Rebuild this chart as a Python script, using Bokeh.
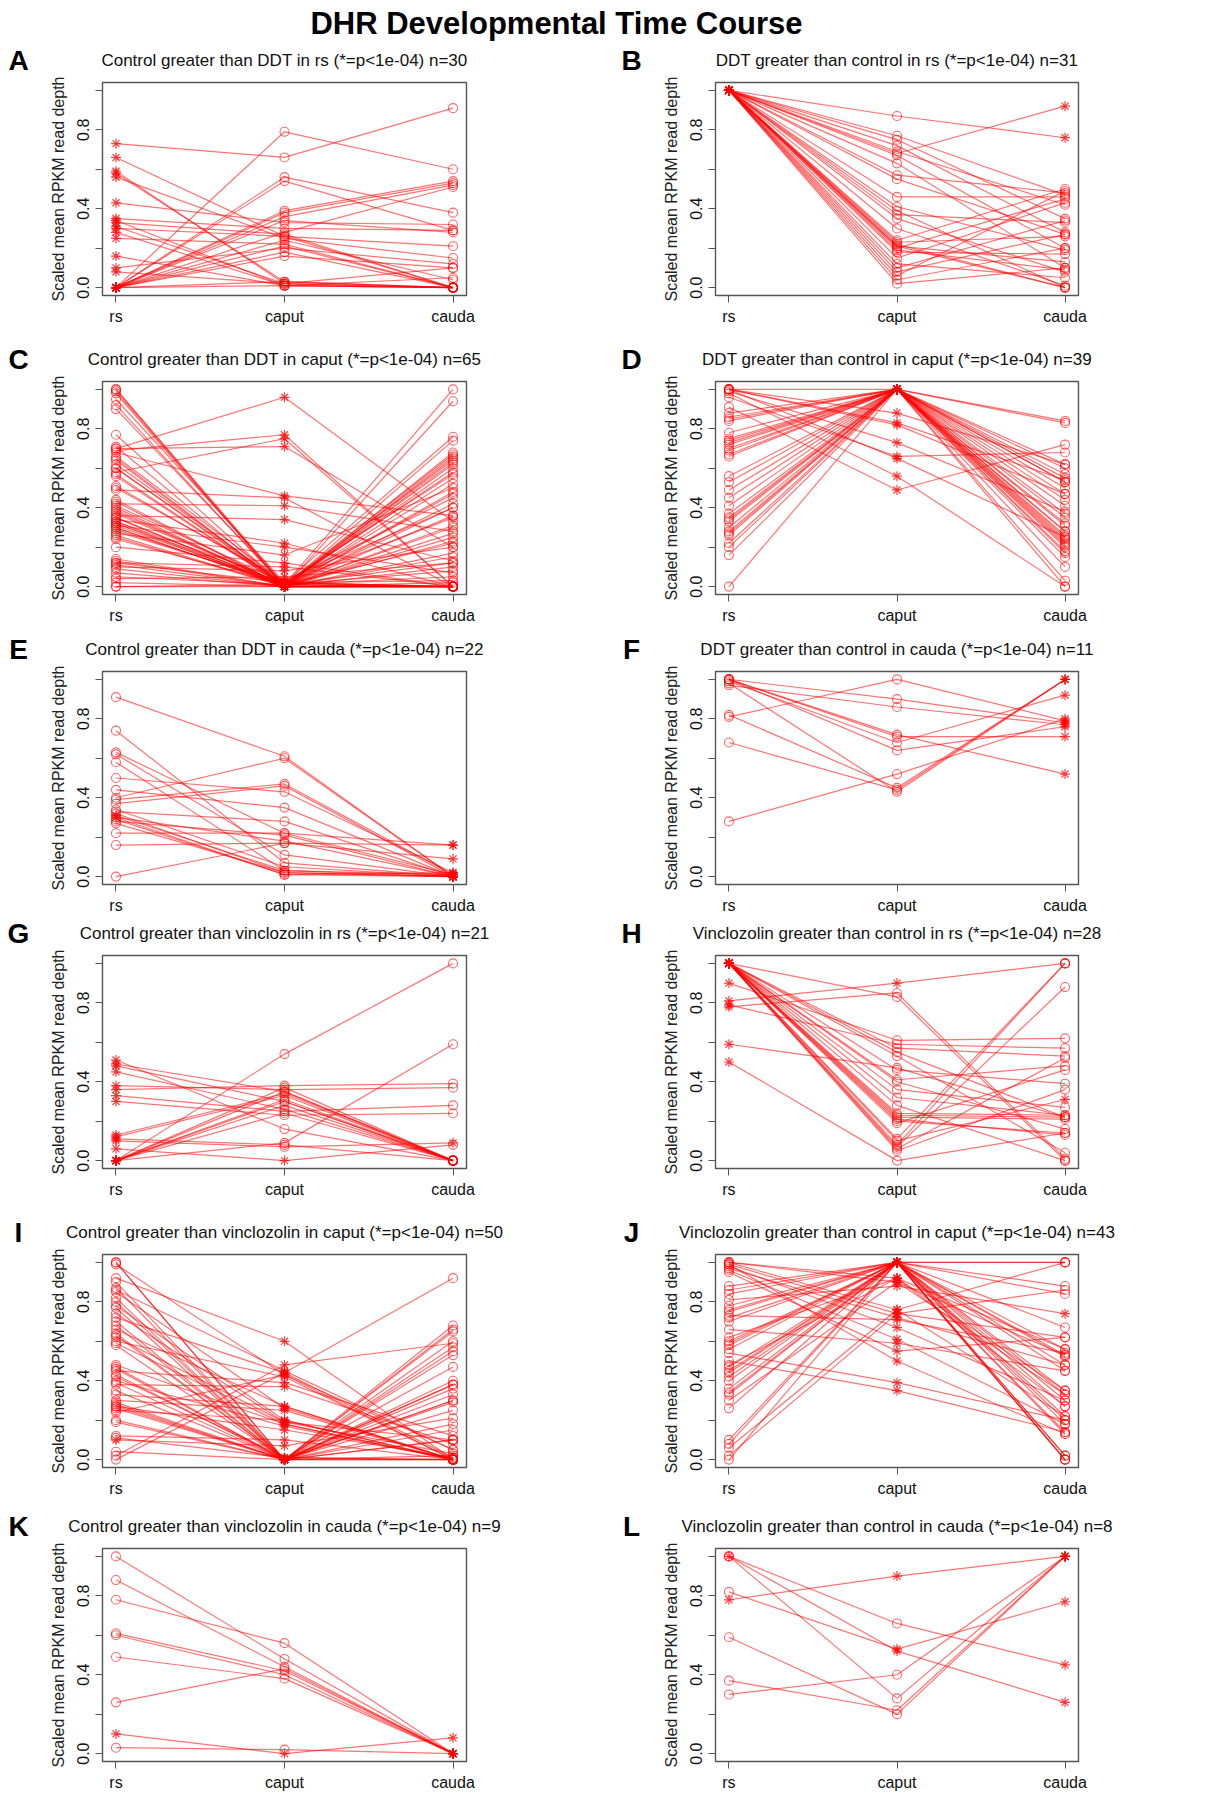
import math
from bokeh.plotting import figure
from bokeh.models import FixedTicker
from bokeh.layouts import column, row
from bokeh.core.properties import value
from bokeh.embed import file_html
from bokeh.resources import INLINE

FONT = "Liberation Sans"

main_title = "DHR Developmental Time Course"
stages = ["rs", "caput", "cauda"]
y_major = [0.0, 0.4, 0.8]
y_major_labels = ["0.0", "0.4", "0.8"]
y_minor = [0.2, 0.6, 1.0]
y_label = "Scaled mean RPKM read depth"

letters = ["A", "B", "C", "D", "E", "F", "G", "H", "I", "J", "K", "L"]
title_bases = [
    "Control greater than DDT in rs (*=p<1e-04)",
    "DDT greater than control in rs (*=p<1e-04)",
    "Control greater than DDT in caput (*=p<1e-04)",
    "DDT greater than control in caput (*=p<1e-04)",
    "Control greater than DDT in cauda (*=p<1e-04)",
    "DDT greater than control in cauda (*=p<1e-04)",
    "Control greater than vinclozolin in rs (*=p<1e-04)",
    "Vinclozolin greater than control in rs (*=p<1e-04)",
    "Control greater than vinclozolin in caput (*=p<1e-04)",
    "Vinclozolin greater than control in caput (*=p<1e-04)",
    "Control greater than vinclozolin in cauda (*=p<1e-04)",
    "Vinclozolin greater than control in cauda (*=p<1e-04)",
]
# stage tested in each panel (asterisk markers there)
tested_stage = ["rs", "rs", "caput", "caput", "cauda", "cauda",
                "rs", "rs", "caput", "caput", "cauda", "cauda"]

# each entry: (rs, caput, cauda) scaled mean RPKM
panel_A = [
    (0.73, 0.66, 0.91), (0.00, 0.79, 0.60), (0.66, 0.26, 0.00), (0.59, 0.02, 0.00),
    (0.58, 0.03, 0.00), (0.56, 0.25, 0.15), (0.43, 0.33, 0.32), (0.35, 0.30, 0.29),
    (0.34, 0.01, 0.00), (0.33, 0.27, 0.00), (0.31, 0.02, 0.00), (0.30, 0.26, 0.21),
    (0.28, 0.01, 0.05), (0.25, 0.22, 0.00), (0.16, 0.01, 0.00), (0.10, 0.20, 0.12),
    (0.08, 0.02, 0.10), (0.00, 0.56, 0.38), (0.00, 0.54, 0.29), (0.00, 0.39, 0.54),
    (0.00, 0.38, 0.53), (0.00, 0.36, 0.52), (0.00, 0.34, 0.28), (0.00, 0.28, 0.51),
    (0.00, 0.24, 0.04), (0.00, 0.21, 0.00), (0.00, 0.18, 0.00), (0.00, 0.16, 0.10),
    (0.00, 0.01, 0.00), (0.00, 0.03, 0.00),
]
panel_B = [
    (1.0, 0.87, 0.76), (1.0, 0.68, 0.92), (1.0, 0.77, 0.47), (1.0, 0.75, 0.35),
    (1.0, 0.72, 0.28), (1.0, 0.69, 0.42), (1.0, 0.67, 0.20), (1.0, 0.63, 0.10),
    (1.0, 0.57, 0.48), (1.0, 0.55, 0.27), (1.0, 0.46, 0.46), (1.0, 0.41, 0.19),
    (1.0, 0.39, 0.00), (1.0, 0.37, 0.33), (1.0, 0.35, 0.08), (1.0, 0.30, 0.01),
    (1.0, 0.24, 0.50), (1.0, 0.23, 0.26), (1.0, 0.22, 0.00), (1.0, 0.21, 0.13),
    (1.0, 0.20, 0.45), (1.0, 0.19, 0.09), (1.0, 0.18, 0.17), (1.0, 0.15, 0.43),
    (1.0, 0.12, 0.05), (1.0, 0.10, 0.34), (1.0, 0.08, 0.27), (1.0, 0.06, 0.49),
    (1.0, 0.04, 0.20), (1.0, 0.02, 0.10), (1.0, 0.21, 0.00),
]
panel_C = [
    (1.00, 0.00, 0.00), (1.00, 0.01, 0.12), (0.99, 0.00, 0.30), (0.95, 0.02, 0.00),
    (0.92, 0.00, 0.65), (0.90, 0.01, 0.22), (0.77, 0.00, 0.40), (0.70, 0.96, 0.33),
    (0.70, 0.71, 0.20), (0.69, 0.77, 0.00), (0.68, 0.46, 0.36), (0.65, 0.00, 0.55),
    (0.62, 0.01, 0.00), (0.60, 0.00, 0.68), (0.58, 0.75, 0.00), (0.57, 0.00, 0.25),
    (0.51, 0.02, 0.00), (0.49, 0.45, 0.00), (0.43, 0.00, 0.47), (0.42, 0.41, 0.28),
    (0.40, 0.00, 0.63), (0.38, 0.01, 0.00), (0.36, 0.34, 0.13), (0.35, 0.00, 0.42),
    (0.34, 0.22, 0.00), (0.33, 0.00, 0.60), (0.32, 0.02, 0.03), (0.31, 0.20, 0.07),
    (0.30, 0.00, 0.66), (0.29, 0.01, 0.00), (0.27, 0.16, 0.50), (0.25, 0.00, 0.17),
    (0.20, 0.12, 0.00), (0.14, 0.00, 0.52), (0.12, 0.10, 0.00), (0.11, 0.00, 0.31),
    (0.10, 0.08, 0.20), (0.07, 0.00, 0.00), (0.04, 0.05, 0.12), (0.02, 0.00, 0.74),
    (0.00, 0.01, 1.00), (0.00, 0.00, 0.94), (0.71, 0.00, 0.00), (0.66, 0.02, 0.76),
    (0.64, 0.00, 0.36), (0.60, 0.01, 0.05), (0.56, 0.00, 0.62), (0.50, 0.03, 0.45),
    (0.44, 0.00, 0.00), (0.41, 0.02, 0.57), (0.39, 0.00, 0.23), (0.37, 0.01, 0.64),
    (0.35, 0.00, 0.00), (0.33, 0.03, 0.40), (0.32, 0.00, 0.27), (0.31, 0.01, 0.67),
    (0.30, 0.00, 0.10), (0.28, 0.02, 0.35), (0.26, 0.00, 0.00), (0.24, 0.01, 0.58),
    (0.13, 0.00, 0.15), (0.12, 0.02, 0.00), (0.09, 0.00, 0.48), (0.05, 0.01, 0.08),
    (0.98, 0.00, 0.02),
]
panel_D = [
    (1.00, 0.88, 0.62), (1.00, 0.83, 0.54), (1.00, 0.82, 0.47), (0.99, 0.73, 0.38),
    (0.96, 0.66, 0.68), (1.00, 0.65, 0.25), (0.98, 0.56, 0.00), (0.91, 0.49, 0.72),
    (0.88, 1.00, 0.84), (0.86, 1.00, 0.83), (0.85, 1.00, 0.60), (0.84, 1.00, 0.57),
    (0.78, 1.00, 0.53), (0.75, 1.00, 0.50), (0.74, 1.00, 0.44), (0.72, 1.00, 0.41),
    (0.70, 1.00, 0.35), (0.67, 1.00, 0.32), (0.66, 1.00, 0.28), (0.56, 1.00, 0.26),
    (0.53, 1.00, 0.25), (0.49, 1.00, 0.23), (0.45, 1.00, 0.22), (0.41, 1.00, 0.20),
    (0.37, 1.00, 0.17), (0.35, 1.00, 0.15), (0.33, 1.00, 0.10), (0.30, 1.00, 0.03),
    (0.27, 1.00, 0.00), (0.26, 1.00, 0.28), (0.22, 1.00, 0.53), (0.20, 1.00, 0.24),
    (0.16, 1.00, 0.37), (0.00, 1.00, 0.21), (1.00, 1.00, 0.55), (0.73, 1.00, 0.62),
    (0.69, 1.00, 0.31), (0.34, 1.00, 0.47), (0.28, 1.00, 0.18),
]
panel_E = [
    (0.91, 0.61, 0.00), (0.74, 0.07, 0.00), (0.63, 0.22, 0.01), (0.62, 0.11, 0.00),
    (0.58, 0.03, 0.00), (0.50, 0.43, 0.02), (0.44, 0.35, 0.00), (0.40, 0.60, 0.00),
    (0.39, 0.47, 0.01), (0.37, 0.46, 0.00), (0.33, 0.28, 0.00), (0.32, 0.02, 0.00),
    (0.31, 0.03, 0.01), (0.30, 0.18, 0.00), (0.29, 0.01, 0.02), (0.28, 0.21, 0.00),
    (0.27, 0.02, 0.00), (0.22, 0.22, 0.16), (0.16, 0.17, 0.16), (0.00, 0.17, 0.09),
    (0.34, 0.05, 0.00), (0.30, 0.01, 0.00),
]
panel_F = [
    (0.81, 1.00, 0.79), (1.00, 0.90, 0.78), (0.97, 0.86, 0.77), (1.00, 0.72, 0.52),
    (1.00, 0.71, 0.71), (0.99, 0.68, 0.92), (1.00, 0.64, 0.76), (0.28, 0.52, 0.80),
    (0.82, 0.45, 1.00), (0.68, 0.44, 1.00), (0.98, 0.43, 1.00),
]
panel_G = [
    (0.00, 0.54, 1.00), (0.00, 0.09, 0.59), (0.51, 0.16, 0.00), (0.49, 0.35, 0.00),
    (0.48, 0.30, 0.00), (0.45, 0.26, 0.00), (0.38, 0.36, 0.37), (0.36, 0.38, 0.39),
    (0.33, 0.25, 0.28), (0.30, 0.23, 0.24), (0.13, 0.34, 0.00), (0.12, 0.33, 0.00),
    (0.11, 0.08, 0.00), (0.10, 0.07, 0.09), (0.06, 0.00, 0.08), (0.00, 0.37, 0.00),
    (0.00, 0.35, 0.00), (0.00, 0.31, 0.00), (0.00, 0.28, 0.00), (0.00, 0.24, 0.00),
    (0.00, 0.30, 0.00),
]
panel_H = [
    (0.81, 0.90, 1.00), (0.78, 0.85, 0.01), (1.00, 0.83, 0.00), (0.59, 0.47, 0.22),
    (0.50, 0.00, 0.14), (0.90, 0.61, 0.62), (0.79, 0.59, 0.57), (1.00, 0.57, 0.53),
    (1.00, 0.55, 0.22), (1.00, 0.53, 0.04), (1.00, 0.46, 0.39), (1.00, 0.41, 0.48),
    (1.00, 0.40, 0.16), (1.00, 0.36, 0.27), (1.00, 0.32, 0.23), (1.00, 0.28, 0.00),
    (1.00, 0.24, 0.23), (1.00, 0.23, 0.22), (1.00, 0.22, 0.21), (1.00, 0.21, 0.13),
    (1.00, 0.19, 0.46), (1.00, 0.11, 1.00), (1.00, 0.08, 1.00), (1.00, 0.07, 0.88),
    (1.00, 0.06, 0.52), (1.00, 0.05, 0.36), (1.00, 0.10, 0.31), (1.00, 0.20, 0.14),
]
panel_I = [
    (1.00, 0.00, 0.00), (1.00, 0.00, 0.10), (0.99, 0.43, 0.00), (0.92, 0.60, 0.00),
    (0.87, 0.00, 0.30), (0.86, 0.45, 0.05), (0.82, 0.00, 0.55), (0.78, 0.20, 0.00),
    (0.77, 0.00, 0.66), (0.72, 0.44, 0.01), (0.70, 0.00, 0.18), (0.66, 0.27, 0.00),
    (0.64, 0.00, 0.38), (0.62, 0.19, 0.03), (0.60, 0.42, 0.00), (0.58, 0.00, 0.60),
    (0.48, 0.18, 0.00), (0.47, 0.00, 0.29), (0.45, 0.39, 0.12), (0.43, 0.00, 0.53),
    (0.40, 0.17, 0.00), (0.38, 0.37, 0.08), (0.35, 0.00, 0.40), (0.30, 0.25, 0.00),
    (0.28, 0.00, 0.68), (0.27, 0.15, 0.01), (0.26, 0.00, 0.25), (0.25, 0.20, 0.00),
    (0.20, 0.00, 0.47), (0.12, 0.10, 0.00), (0.10, 0.07, 0.21), (0.04, 0.00, 0.15),
    (0.00, 0.44, 0.92), (0.02, 0.48, 0.59), (0.90, 0.00, 0.36), (0.85, 0.26, 0.00),
    (0.80, 0.00, 0.02), (0.74, 0.19, 0.10), (0.68, 0.00, 0.00), (0.63, 0.00, 0.33),
    (0.59, 0.18, 0.00), (0.46, 0.00, 0.57), (0.42, 0.01, 0.00), (0.39, 0.00, 0.65),
    (0.33, 0.27, 0.00), (0.29, 0.00, 0.30), (0.27, 0.00, 0.10), (0.24, 0.43, 0.05),
    (0.19, 0.00, 0.38), (0.11, 0.01, 0.00),
]
panel_J = [
    (1.00, 0.92, 0.56), (1.00, 0.90, 0.33), (1.00, 0.76, 0.22), (0.99, 0.74, 0.86),
    (0.97, 0.72, 0.48), (0.98, 0.67, 0.30), (0.96, 0.61, 0.18), (0.95, 0.55, 0.62),
    (0.99, 0.50, 0.13), (0.88, 1.00, 1.00), (0.86, 1.00, 0.88), (0.84, 1.00, 0.84),
    (0.81, 0.88, 0.74), (0.78, 1.00, 0.67), (0.75, 1.00, 0.56), (0.73, 0.71, 0.54),
    (0.70, 1.00, 0.53), (0.66, 0.59, 0.45), (0.60, 1.00, 0.52), (0.59, 1.00, 0.48),
    (0.58, 1.00, 0.35), (0.54, 0.39, 0.20), (0.50, 0.35, 0.14), (0.47, 1.00, 0.33),
    (0.45, 1.00, 0.27), (0.44, 1.00, 0.02), (0.42, 1.00, 0.00), (0.40, 1.00, 0.22),
    (0.34, 1.00, 0.20), (0.33, 1.00, 0.30), (0.26, 1.00, 0.00), (0.08, 1.00, 0.45),
    (0.06, 0.76, 1.00), (0.00, 1.00, 0.13), (0.02, 0.74, 0.62), (0.76, 1.00, 0.02),
    (0.72, 1.00, 0.18), (0.62, 0.92, 0.27), (0.56, 1.00, 1.00), (0.48, 0.92, 0.35),
    (0.36, 1.00, 0.00), (0.30, 0.90, 0.53), (0.10, 1.00, 0.14),
]
panel_K = [
    (1.00, 0.48, 0.00), (0.88, 0.44, 0.00), (0.78, 0.56, 0.00), (0.61, 0.42, 0.00),
    (0.60, 0.40, 0.00), (0.49, 0.38, 0.00), (0.26, 0.43, 0.00), (0.10, 0.00, 0.08),
    (0.03, 0.02, 0.00),
]
panel_L = [
    (0.78, 0.90, 1.00), (1.00, 0.66, 0.45), (1.00, 0.52, 0.26), (0.82, 0.53, 0.77),
    (1.00, 0.28, 1.00), (0.37, 0.22, 1.00), (0.59, 0.20, 1.00), (0.30, 0.40, 1.00),
]
panels = [panel_A, panel_B, panel_C, panel_D, panel_E, panel_F,
          panel_G, panel_H, panel_I, panel_J, panel_K, panel_L]

# additional points drawn as asterisks: (gene row, stage)
extra_stars = {
    "B": [(0, "cauda"), (1, "cauda")],
    "E": [(12, "rs"), (13, "rs")],
    "G": [(14, "caput"), (13, "cauda")],
    "H": [(0, "caput"), (26, "cauda")],
    "I": [(30, "rs")],
    "J": [(12, "cauda")],
    "K": [(7, "rs"), (7, "caput")],
    "L": [(0, "rs"), (2, "rs"), (0, "caput"), (2, "caput"), (3, "caput")],
}

# ---- layout (page pixels) ----
PAGE_W = 1215
FRAME_H = 213
GAP_T = 6                                    # canvas space above each frame
ROW_START = [0, 335, 630, 915, 1205, 1500]
ROW_END = [335, 630, 915, 1205, 1500, 1798]
FRAME_TOP = [82, 381, 671, 954, 1253, 1547]
COL = [dict(x0=0, left=102, fw=364, right=146),
       dict(x0=612, left=103, fw=363, right=137)]
TITLE_ABOVE = 22
LETTER_DX = -84
MAIN_TITLE_XY = (556, 23)
X0, X1 = -0.08, 2.08
Y0, Y1 = -0.04, 1.04
RED = "#ff0000"
AXIS_GREY = "#555555"


def make_panel(idx):
    r, c = divmod(idx, 2)
    geo = COL[c]
    rows_data = panels[idx]
    letter = letters[idx]
    bottom = ROW_END[r] - (FRAME_TOP[r] + FRAME_H)
    p = figure(frame_width=geo["fw"], frame_height=FRAME_H,
               min_border_left=geo["left"], min_border_right=geo["right"],
               min_border_top=GAP_T, min_border_bottom=bottom,
               x_range=(X0, X1), y_range=(Y0, Y1),
               toolbar_location=None, output_backend="svg",
               background_fill_color="white", border_fill_color="white")
    p.grid.visible = False
    p.outline_line_color = AXIS_GREY
    p.outline_line_width = 1.4

    xs = [[stages.index(s) for s in stages] for _ in rows_data]
    ys = [list(g) for g in rows_data]
    p.multi_line(xs=xs, ys=ys, line_color=RED, line_alpha=0.55, line_width=1.2)

    t = tested_stage[idx]
    extras = set(extra_stars.get(letter, []))
    cx, cy, sx, sy = [], [], [], []
    for gi, g in enumerate(rows_data):
        for si, s in enumerate(stages):
            if s == t or (gi, s) in extras:
                sx.append(si); sy.append(g[si])
            else:
                cx.append(si); cy.append(g[si])
    p.scatter(cx, cy, marker="circle", size=9, fill_color=None,
              line_color=RED, line_alpha=0.6, line_width=1.1)
    p.scatter(sx, sy, marker="asterisk", size=10,
              line_color=RED, line_alpha=0.75, line_width=1.2)

    p.xaxis.ticker = FixedTicker(ticks=list(range(len(stages))))
    p.xaxis.major_label_overrides = {i: s for i, s in enumerate(stages)}
    p.yaxis.ticker = FixedTicker(ticks=y_major, minor_ticks=y_minor)
    p.yaxis.major_label_overrides = dict(zip(y_major, y_major_labels))
    p.yaxis.major_label_orientation = "parallel"
    p.yaxis.axis_label = y_label
    p.yaxis.axis_label_text_font_style = "normal"
    p.yaxis.axis_label_text_font_size = "16px"
    p.yaxis.axis_label_text_font = FONT
    p.yaxis.axis_label_text_color = "#222222"
    p.yaxis.axis_label_standoff = 8
    for ax in (p.xaxis, p.yaxis):
        ax.axis_line_color = AXIS_GREY
        ax.major_tick_line_color = AXIS_GREY
        ax.minor_tick_line_color = AXIS_GREY
        ax.major_tick_out = 7
        ax.major_tick_in = 0
        ax.minor_tick_out = 7
        ax.minor_tick_in = 0
        ax.major_label_text_font = FONT
        ax.major_label_text_font_size = "16px"
        ax.major_label_text_color = "#111111"
    p.xaxis.major_label_standoff = 5
    p.yaxis.major_label_standoff = 6
    p.xaxis.minor_tick_line_color = None
    return p


def make_header(r):
    top = ROW_START[r]
    h = FRAME_TOP[r] - GAP_T - top
    hf = figure(width=PAGE_W, height=h, x_range=(0, PAGE_W), y_range=(h, 0),
                x_axis_type=None, y_axis_type=None, min_border=0,
                toolbar_location=None, output_backend="svg")
    hf.grid.visible = False
    hf.outline_line_color = None
    ty = FRAME_TOP[r] - TITLE_ABOVE - top
    tx, lx, tt, lt = [], [], [], []
    for c in range(2):
        idx = 2 * r + c
        geo = COL[c]
        fl = geo["x0"] + geo["left"]
        tx.append(fl + geo["fw"] / 2)
        lx.append(fl + LETTER_DX)
        tt.append(f"{title_bases[idx]} n={len(panels[idx])}")
        lt.append(letters[idx])
    hf.text(x=tx, y=[ty, ty], text=tt, text_font=value(FONT), text_font_size="17px",
            text_align="center", text_baseline="middle", text_color="#111111")
    hf.text(x=lx, y=[ty, ty], text=lt, text_font=value(FONT), text_font_size="28px",
            text_font_style="bold", text_align="center", text_baseline="middle",
            text_color="black")
    if r == 0:
        hf.text(x=[MAIN_TITLE_XY[0]], y=[MAIN_TITLE_XY[1]], text=[main_title],
                text_font=value(FONT), text_font_size="31px", text_font_style="bold",
                text_align="center", text_baseline="middle", text_color="black")
    return hf


figs = [make_panel(i) for i in range(12)]
items = []
for r in range(6):
    items.append(make_header(r))
    items.append(row(figs[2 * r], figs[2 * r + 1]))
layout = column(*items)

open("out.html", "w").write(file_html(layout, INLINE))
